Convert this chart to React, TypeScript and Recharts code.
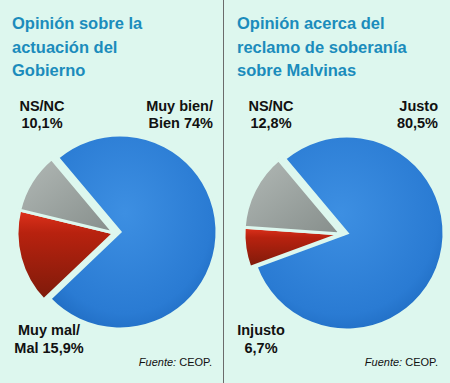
import { Pie, PieChart, Cell } from "recharts";

const categoriasGobierno = ["Muy bien/ Bien", "Muy mal/ Mal", "NS/NC"];
const valoresGobierno = [74, 15.9, 10.1];
const categoriasMalvinas = ["Justo", "Injusto", "NS/NC"];
const valoresMalvinas = [80.5, 6.7, 12.8];
const fills = ["url(#gBlue)", "url(#gRed)", "url(#gGrey)"];

const BG = "#ddf7ee";
const TITLE = "#1b8cbc";
const font = "'Liberation Sans', Arial, sans-serif";

const fmt = (v: number) => v.toString().replace(".", ",") + "%";

function toData(cats: string[], vals: number[]) {
  return cats.map((name, i) => ({ name, value: vals[i] }));
}

const gobierno = toData(categoriasGobierno, valoresGobierno);
const malvinas = toData(categoriasMalvinas, valoresMalvinas);

function Txt(props: { x: number; y: number; w: number; align: "left" | "right" | "center"; size: number; lh: number; children: any; weight?: string; color?: string }) {
  return (
    <div
      style={{
        position: "absolute",
        left: props.x,
        top: props.y,
        width: props.w,
        textAlign: props.align,
        fontSize: props.size,
        lineHeight: props.lh + "px",
        fontWeight: props.weight ?? "bold",
        color: props.color ?? "#111",
        fontFamily: font,
        whiteSpace: "nowrap",
      }}
    >
      {props.children}
    </div>
  );
}

// one Pie per group, other slices transparent, so slices can be pulled out
function slices(data: any[], show: number[], cx: number, cy: number, start: number, key: string) {
  return (
    <Pie
      key={key}
      data={data}
      dataKey="value"
      cx={cx}
      cy={cy}
      outerRadius={97}
      startAngle={start}
      endAngle={start - 360}
      stroke={BG}
      strokeWidth={3}
      isAnimationActive={false}
    >
      {data.map((_, i) => (
        <Cell
          key={i}
          fill={show.includes(i) ? fills[i] : "none"}
          stroke={show.includes(i) ? BG : "none"}
        />
      ))}
    </Pie>
  );
}

export default function App() {
  return (
    <div style={{ position: "fixed", left: 0, top: 0, width: 450, height: 383, background: BG, overflow: "hidden" }}>
      <PieChart width={450} height={383} style={{ position: "absolute", left: 0, top: 0 }}>
        <defs>
          <radialGradient id="gBlue" cx="45%" cy="40%" r="65%">
            <stop offset="0%" stopColor="#3d8fe2" />
            <stop offset="80%" stopColor="#2a7bd3" />
            <stop offset="100%" stopColor="#1f6cc2" />
          </radialGradient>
          <linearGradient id="gRed" x1="0" y1="0" x2="0" y2="1">
            <stop offset="0%" stopColor="#e0321c" />
            <stop offset="25%" stopColor="#b8220f" />
            <stop offset="100%" stopColor="#7d1a0a" />
          </linearGradient>
          <linearGradient id="gGrey" x1="0" y1="0" x2="1" y2="1">
            <stop offset="0%" stopColor="#b2b9b6" />
            <stop offset="100%" stopColor="#868e8b" />
          </linearGradient>
        </defs>
        {slices(gobierno, [0], 115, 227, 130, "g0")}
        {slices(gobierno, [1, 2], 109, 228, 130, "g1")}
        {slices(malvinas, [0], 342, 228, 130, "m0")}
        {slices(malvinas, [1, 2], 336, 229, 130, "m1")}
      </PieChart>

      <div style={{ position: "absolute", left: 223, top: 0, width: 1, height: 383, background: "#6b6b6b" }} />

      <Txt x={12} y={12} w={210} align="left" size={16.5} lh={23.5} color={TITLE}>
        Opinión sobre la<br />actuación del<br />Gobierno
      </Txt>
      <Txt x={237} y={12} w={210} align="left" size={16.5} lh={23.5} color={TITLE}>
        Opinión acerca del<br />reclamo de soberanía<br />sobre Malvinas
      </Txt>

      <Txt x={2} y={98} w={80} align="center" size={14.5} lh={17}>
        {categoriasGobierno[2]}<br />{fmt(valoresGobierno[2])}
      </Txt>
      <Txt x={113} y={98} w={100} align="right" size={14.5} lh={17}>
        Muy bien/<br />Bien {fmt(valoresGobierno[0])}
      </Txt>
      <Txt x={0} y={321} w={98} align="center" size={14.5} lh={18}>
        Muy mal/<br />Mal {fmt(valoresGobierno[1])}
      </Txt>
      <Txt x={112} y={355} w={100} align="right" size={11} lh={14} weight="normal">
        <i>Fuente:</i> CEOP.
      </Txt>

      <Txt x={231} y={98} w={80} align="center" size={14.5} lh={17}>
        {categoriasMalvinas[2]}<br />{fmt(valoresMalvinas[2])}
      </Txt>
      <Txt x={338} y={98} w={100} align="right" size={14.5} lh={17}>
        {categoriasMalvinas[0]}<br />{fmt(valoresMalvinas[0])}
      </Txt>
      <Txt x={221} y={321} w={80} align="center" size={14.5} lh={18}>
        {categoriasMalvinas[1]}<br />{fmt(valoresMalvinas[1])}
      </Txt>
      <Txt x={338} y={355} w={100} align="right" size={11} lh={14} weight="normal">
        <i>Fuente:</i> CEOP.
      </Txt>
    </div>
  );
}
